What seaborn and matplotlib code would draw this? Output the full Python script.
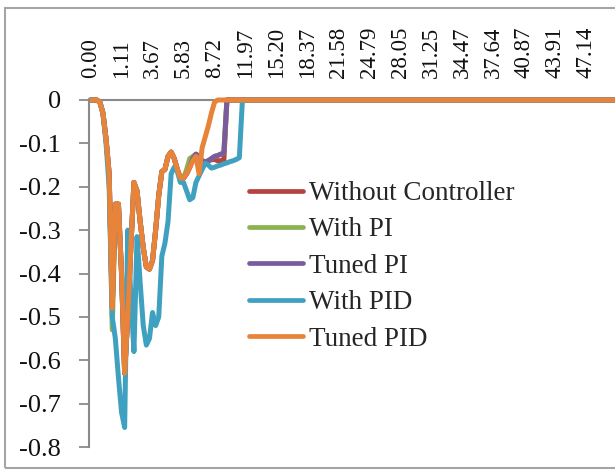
import matplotlib
matplotlib.use("Agg")
import matplotlib.pyplot as plt
from matplotlib.lines import Line2D
from matplotlib.patches import Rectangle
import seaborn as sns
import pandas as pd

# ---------------- data (sample index, label every 10 samples) ----------------
x_idx = [0, 1, 2, 3, 4, 5, 6, 7, 8, 9, 10, 11, 12, 13, 14, 15, 16, 17, 18, 19,
         20, 21, 22, 23, 24, 25, 26, 27, 28, 29, 30, 31, 32, 33, 34, 35, 36, 37,
         38, 39, 40, 41, 42, 43, 44, 45, 46, 47, 48, 49, 169]

tick_idx = [0, 10, 20, 30, 40, 50, 60, 70, 80, 90, 100, 110, 120, 130, 140, 150, 160]
tick_labels = ['0.00', '1.11', '3.67', '5.83', '8.72', '11.97', '15.20', '18.37',
               '21.58', '24.79', '28.05', '31.25', '34.47', '37.64', '40.87',
               '43.91', '47.14']

without_controller = [0, 0, 0, -0.005, -0.03, -0.09, -0.17, -0.48, -0.24, -0.24,
                      -0.40, -0.63, -0.50, -0.34, -0.19, -0.21, -0.28, -0.34, -0.385, -0.39,
                      -0.37, -0.30, -0.22, -0.165, -0.16, -0.13, -0.12, -0.135, -0.16, -0.18,
                      -0.18, -0.17, -0.155, -0.135, -0.125, -0.13, -0.14, -0.143, -0.14, -0.138,
                      -0.137, -0.14, -0.14, -0.14, 0, 0, 0, 0, 0, 0, 0]
with_pi = [0, 0, 0, -0.005, -0.03, -0.09, -0.17, -0.53, -0.24, -0.24,
           -0.40, -0.63, -0.50, -0.34, -0.19, -0.21, -0.28, -0.34, -0.385, -0.39,
           -0.37, -0.30, -0.22, -0.165, -0.16, -0.13, -0.12, -0.135, -0.16, -0.18,
           -0.18, -0.16, -0.135, -0.13, -0.125, -0.13, -0.14, -0.143, -0.14, -0.135,
           -0.13, -0.128, -0.125, -0.122, 0, 0, 0, 0, 0, 0, 0]
tuned_pi = [0, 0, 0, -0.005, -0.03, -0.09, -0.17, -0.48, -0.24, -0.24,
            -0.40, -0.63, -0.50, -0.34, -0.19, -0.21, -0.28, -0.34, -0.385, -0.39,
            -0.37, -0.30, -0.22, -0.165, -0.16, -0.13, -0.12, -0.135, -0.16, -0.18,
            -0.18, -0.17, -0.155, -0.135, -0.125, -0.13, -0.14, -0.143, -0.14, -0.135,
            -0.13, -0.128, -0.125, -0.122, 0, 0, 0, 0, 0, 0, 0]
with_pid = [0, 0, 0, -0.005, -0.03, -0.10, -0.20, -0.50, -0.55, -0.64,
            -0.72, -0.755, -0.30, -0.45, -0.58, -0.315, -0.42, -0.52, -0.565, -0.55,
            -0.49, -0.52, -0.50, -0.36, -0.33, -0.28, -0.17, -0.155, -0.165, -0.19,
            -0.19, -0.21, -0.23, -0.225, -0.19, -0.175, -0.16, -0.146, -0.15, -0.157,
            -0.155, -0.152, -0.15, -0.147, -0.145, -0.142, -0.14, -0.137, -0.133, 0, 0]
tuned_pid = [0, 0, 0, -0.005, -0.03, -0.09, -0.17, -0.48, -0.24, -0.24,
             -0.40, -0.63, -0.50, -0.34, -0.19, -0.21, -0.28, -0.34, -0.385, -0.39,
             -0.37, -0.30, -0.22, -0.165, -0.16, -0.13, -0.12, -0.135, -0.16, -0.18,
             -0.18, -0.17, -0.155, -0.14, -0.13, -0.17, -0.11, -0.085, -0.06, -0.03,
             -0.005, 0, 0, 0, 0, 0, 0, 0, 0, 0, 0]

series_names = ['Without Controller', 'With PI', 'Tuned PI', 'With PID', 'Tuned PID']
series_values = [without_controller, with_pi, tuned_pi, with_pid, tuned_pid]
colors = ['#B5433F', '#8DB350', '#7A5C9E', '#3FA1BF', '#E8833A']

y_ticks = [0, -0.1, -0.2, -0.3, -0.4, -0.5, -0.6, -0.7, -0.8]
y_labels = ['0', '-0.1', '-0.2', '-0.3', '-0.4', '-0.5', '-0.6', '-0.7', '-0.8']

# ---------------- build long table ----------------
rows = []
for name, vals in zip(series_names, series_values):
    for xi, v in zip(x_idx, vals):
        rows.append({'idx': xi, 'value': v, 'series': name})
df = pd.DataFrame(rows)

# ---------------- plot ----------------
sns.set_style('white')
plt.rcParams['font.family'] = ['Liberation Serif', 'DejaVu Serif']

W, H = 615, 470
fig = plt.figure(figsize=(W / 100, H / 100), dpi=100)
ax = fig.add_axes([89 / W, 23 / H, (W - 89) / W, 347 / H])

sns.lineplot(data=df, x='idx', y='value', hue='series', hue_order=series_names,
             palette=colors, estimator=None, sort=False, linewidth=3.6,
             legend=False, ax=ax)
for ln in ax.lines:
    ln.set_clip_on(False)
    ln.set_solid_joinstyle('round')

ax.set_xlim(-0.5, 169.2)
ax.set_ylim(-0.8, 0)
ax.set_xlabel('')
ax.set_ylabel('')

ax.xaxis.tick_top()
ax.set_xticks(tick_idx)
ax.set_xticklabels(tick_labels, rotation=90, fontsize=16.5, color='#111111')
ax.tick_params(axis='x', length=0, pad=16)

ax.set_yticks(y_ticks)
ax.set_yticklabels(y_labels, fontsize=19, color='#111111')
ax.tick_params(axis='y', left=True, length=7, width=1.3, color='#8A8A8A',
               direction='out', pad=13)

for side in ['right', 'bottom']:
    ax.spines[side].set_visible(False)
for side in ['top', 'left']:
    ax.spines[side].set_color('#8A8A8A')
    ax.spines[side].set_linewidth(1.5)
ax.spines['top'].set_zorder(0)

handles = [Line2D([0], [0], color=c, lw=3.4) for c in colors]
ax.legend(handles, series_names, loc='upper left',
          bbox_to_anchor=(249 / W, (H - 181) / H), bbox_transform=fig.transFigure,
          frameon=False, fontsize=19.5, handlelength=2.0, handletextpad=0.22,
          labelspacing=0.42, borderpad=0, borderaxespad=0)

fig.patches.append(Rectangle((5 / W, 2 / H), 1.0, (462 - 2) / H,
                             transform=fig.transFigure, fill=False,
                             edgecolor='#A5A5A5', linewidth=1.5))

fig.savefig('out.png', dpi=100)
